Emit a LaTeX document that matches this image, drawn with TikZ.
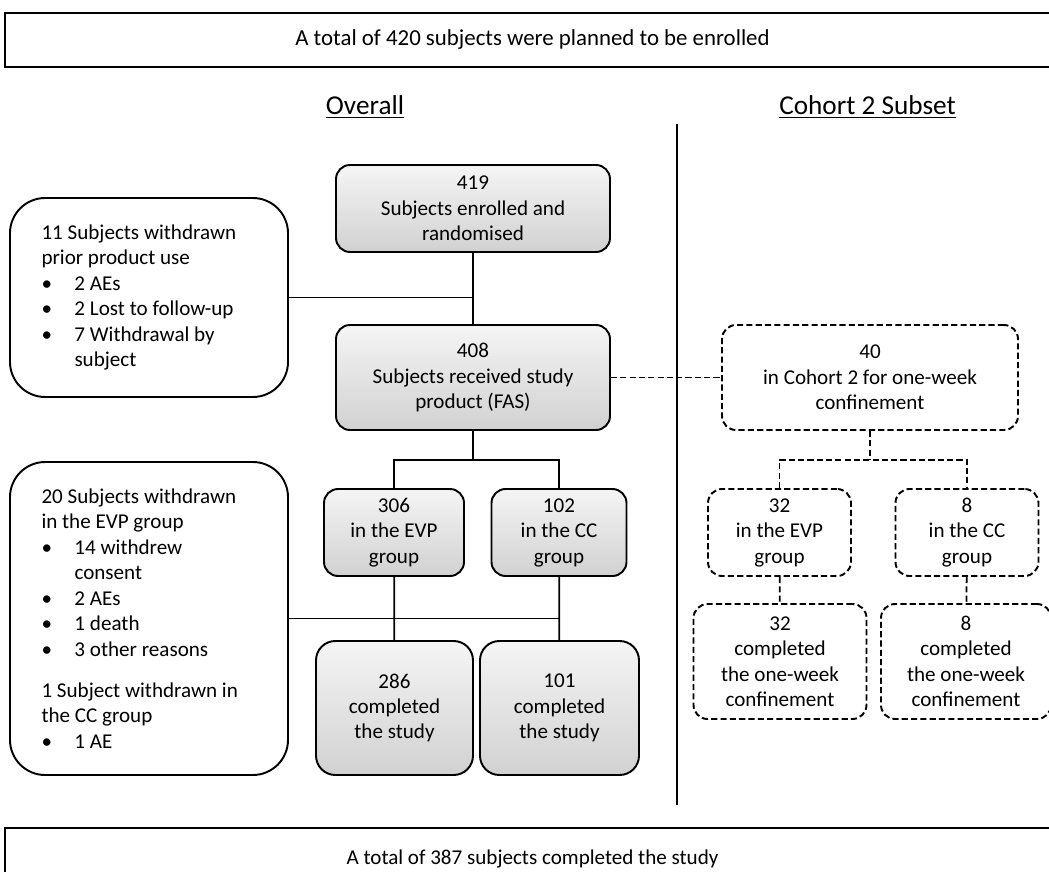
\documentclass[tikz,border=0pt]{standalone}
\usepackage{fontspec}
\setmainfont{Carlito}
\usetikzlibrary{positioning,calc}
\newcommand{\bt}{\makebox[0.66cm][l]{\textbullet}}
\newcommand{\bi}{\hspace*{0.66cm}}

\begin{document}
\begin{tikzpicture}[
  txt/.style={font=\fontsize{12}{14.5}\selectfont},
  box/.style={txt,draw,line width=1.1pt,rounded corners=8pt,align=center,inner sep=2pt},
  grey/.style={box,top color=gray!8,bottom color=gray!36},
  done/.style={grey,rounded corners=11pt},
  note/.style={box,fill=white,rounded corners=20pt,align=flush left,text width=4.3cm,inner xsep=0.63cm},
  sub/.style={box,dash pattern=on 3.5pt off 1.8pt},
  wide/.style={font=\fontsize{13}{16}\selectfont,draw,line width=1pt,minimum width=21.1cm},
  head/.style={font=\fontsize{15.5}{18}\selectfont},
  link/.style={line width=1pt},
  dlink/.style={link,dash pattern=on 3.5pt off 1.8pt}]
  \path[use as bounding box] (0,0) rectangle (20.98,-17.44);
  \clip (0,0) rectangle (20.98,-17.44);
  \node[wide,minimum height=1.08cm] (PLAN) at (10.65,-0.8) {A total of 420 subjects were planned to be enrolled};
  \node[head] (OV) at (7.3,-2.14) {\underline{Overall}};
  \node[head] (COH) at (17.35,-2.14) {\underline{Cohort 2 Subset}};
  % overall column
  \node[grey,minimum width=5.48cm,minimum height=1.74cm] (ENR) at (9.46,-4.17) {419\\Subjects enrolled and\\randomised};
  \node[grey,minimum width=5.48cm,minimum height=2.1cm] (FAS) at (9.46,-7.55) {408\\Subjects received study\\product (FAS)};
  \node[note,minimum height=3.98cm] (WD1) at (2.98,-5.95) {11 Subjects withdrawn\\prior product use\\\bt 2 AEs\\\bt 2 Lost to follow-up\\\bt 7 Withdrawal by\\\bi subject};
  \node[grey,minimum width=2.8cm,minimum height=1.74cm] (EVP) at (7.88,-10.65) {306\\in the EVP\\group};
  \node[grey,minimum width=2.7cm,minimum height=1.74cm] (CC) at (11.18,-10.65) {102\\in the CC\\group};
  \node[note,minimum height=6.26cm] (WD2) at (2.98,-12.37) {20 Subjects withdrawn\\in the EVP group\\\bt 14 withdrew\\\bi consent\\\bt 2 AEs\\\bt 1 death\\\bt 3 other reasons\\[9pt]1 Subject withdrawn in\\the CC group\\\bt 1 AE};
  \node[done,minimum width=3.14cm,minimum height=2.68cm] (EVPd) at (7.89,-14.16) {286\\completed\\the study};
  \node[done,minimum width=3.18cm,minimum height=2.68cm] (CCd) at (11.19,-14.16) {101\\completed\\the study};
  % cohort 2 column
  \node[sub,minimum width=5.92cm,minimum height=2.1cm] (C40) at (17.4,-7.55) {40\\in Cohort 2 for one-week\\confinement};
  \node[sub,minimum width=2.86cm,minimum height=1.74cm] (CEVP) at (15.59,-10.65) {32\\in the EVP\\group};
  \node[sub,minimum width=2.86cm,minimum height=1.74cm] (CCC) at (19.34,-10.65) {8\\in the CC\\group};
  \node[sub,minimum width=3.46cm,minimum height=2.3cm] (CEVPd) at (15.6,-13.23) {32\\completed\\the one-week\\confinement};
  \node[sub,minimum width=3.4cm,minimum height=2.3cm] (CCCd) at (19.32,-13.23) {8\\completed\\the one-week\\confinement};
  \node[wide,font=\fontsize{12}{15}\selectfont,minimum height=1.24cm] (DONE) at (10.65,-17.18) {A total of 387 subjects completed the study};
  \coordinate (J1) at (9.46,-9.2);
  \coordinate (J2) at (17.4,-9.2);
  \coordinate (D1) at (13.54,-2.48);
  \coordinate (D2) at (13.54,-16.1);
  \draw[link] (D1) -- (D2);
  \draw[link] (ENR) -- (FAS);
  \draw[link] (WD1.east) -- (WD1.east -| ENR.south);
  \draw[link] (FAS) -- (J1);
  \draw[link] (EVP.north) |- (J1) -| (CC.north);
  \draw[link] (WD2.east) -- (WD2.east -| CC.south);
  \draw[link] (EVP) -- (EVPd); \draw[link] (CC) -- (CCd);
  \draw[dlink] (FAS.east) -- (C40.west);
  \draw[dlink] (C40) -- (J2);
  \draw[dlink] (CEVP.north) |- (J2) -| (CCC.north);
  \draw[dlink] (CEVP) -- (CEVPd); \draw[dlink] (CCC) -- (CCCd);
\end{tikzpicture}
\end{document}
